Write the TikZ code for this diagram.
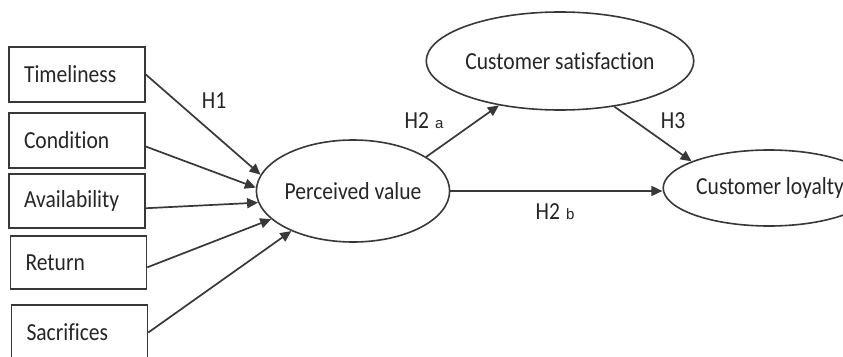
\documentclass[tikz,border=0pt]{standalone}
\usepackage{fontspec}
\setmainfont{Carlito}[FakeStretch=0.88, Ligatures=NoCommon]
\newfontfamily\smallsans{Liberation Sans}
\newcommand\hypsub[1]{{\smallsans\fontsize{15}{17}\selectfont #1}}
\usetikzlibrary{arrows.meta,shapes.geometric}

\tikzset{
  factor/.style={draw=black!78, line width=1.6pt, rectangle, minimum height=55pt,
    text width=106pt, inner xsep=15pt, align=left, text=black!85,
    font=\fontsize{24.5}{27}\selectfont},
  construct/.style={draw=black!78, line width=1.6pt, ellipse, inner sep=0pt,
    text=black!85, font=\fontsize{24.5}{27}\selectfont},
  link/.style={draw=black!78, line width=1.7pt,
    -{Triangle[length=11pt,width=10pt]}},
  hyp/.style={text=black!85, font=\fontsize{24.5}{27}\selectfont, inner sep=0pt}
}

\begin{document}
\begin{tikzpicture}[x=1pt,y=-1pt]
\useasboundingbox (0,0) rectangle (843,356);
\clip (0,0) rectangle (843,356);
\fill[white] (0,0) rectangle (843,356);

% antecedent factors
\node[factor, minimum width=136pt] (tim) at (77,74.5) {Timeliness};
\node[factor, minimum width=136pt] (con) at (77,140.5) {Condition};
\node[factor, minimum width=136pt, minimum height=54pt] (ava) at (77,201) {Availability};
\node[factor, minimum width=135pt, minimum height=53pt] (ret) at (78.5,262.5) {Return};
\node[factor, minimum width=135pt] (sac) at (79.5,332.5) {Sacrifices};

% latent constructs
\node[construct, minimum width=174pt, minimum height=102pt] (pv) at (353,191) {Perceived value};
\node[construct, minimum width=236pt, minimum height=98pt] (cs) at (560,61) {Customer satisfaction};
\node[construct, minimum width=182pt, minimum height=76pt] (cl) at (769,188) {\hspace*{2pt}Customer loyalty};

% paths
\draw[link] (tim.east) -- (pv.170.6);
\draw[link] (con.-5) -- (pv.178);
\draw[link] (ava.-6) -- (pv.187);
\draw[link] (ret.-4) -- (pv.199.7);
\draw[link] (sac.east) -- (pv.213.7);
\draw[link] (pv.25.6) -- (cs.-144);
\draw[link] (pv.east) -- (pv.east -| cl.west);
\draw[link] (cs.-40.5) -- (cl.161.8);

% hypothesis labels
\node[hyp] (h1) at (214,101) {H1};
\node[hyp] (h2a) at (424,121) {H2\hspace{6pt}\hypsub{a}};
\node[hyp] (h2b) at (555,212) {H2\hspace{6pt}\hypsub{b}};
\node[hyp] (h3) at (673,121) {H3};
\end{tikzpicture}
\end{document}
